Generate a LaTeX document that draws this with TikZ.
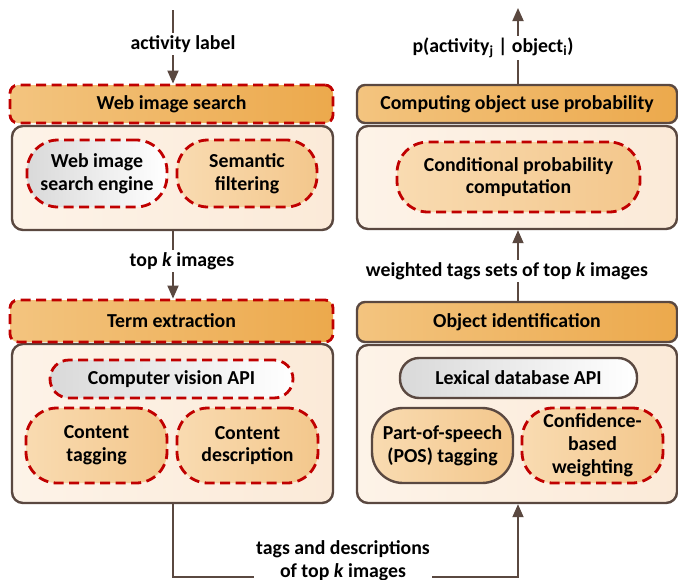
\documentclass[tikz,border=0pt]{standalone}
\usepackage{fontspec}
\setmainfont{Carlito}
\usetikzlibrary{arrows.meta}

\definecolor{edge}{HTML}{5A4840}
\definecolor{redash}{HTML}{C00000}
\definecolor{hdrL}{HTML}{F3C47F}
\definecolor{hdrR}{HTML}{ECA94C}
\definecolor{bodyL}{HTML}{FDF3E8}
\definecolor{bodyR}{HTML}{FBEAD8}
\definecolor{pillL}{HTML}{F9DBB1}
\definecolor{pillR}{HTML}{F3C78C}
\definecolor{greyL}{HTML}{D9D9D9}

\tikzset{
  hdr/.style={rectangle, rounded corners=8pt, inner sep=0pt,
    left color=hdrL, right color=hdrR, draw=edge, line width=2.4pt},
  reddash/.style={draw=redash, line width=2.8pt, dash pattern=on 10pt off 5.5pt},
  panel/.style={rectangle, rounded corners=11pt, inner sep=0pt,
    left color=bodyL, right color=bodyR, draw=edge, line width=2.4pt},
  pill/.style={rectangle, rounded corners=31pt, inner sep=0pt, align=center},
  flatpill/.style={rectangle, rounded corners=19pt, inner sep=0pt, align=center},
  warm/.style={left color=pillL, right color=pillR},
  cool/.style={left color=greyL, right color=white},
  solidedge/.style={draw=edge, line width=2.4pt},
  flow/.style={draw=edge, line width=1.8pt},
  flowtip/.style={flow, -{Triangle[width=11pt,length=13pt]}},
  lbl/.style={fill=white, inner sep=2pt, align=center}
}

\begin{document}
\begin{tikzpicture}[x=1pt, y=-1pt, font=\fontsize{19.8}{22.8}\selectfont\bfseries]
\useasboundingbox (0,0) rectangle (678,579);
\clip (0,0) rectangle (678,579);

% ---------- upper left: web image search ----------
\node[panel, minimum width=321pt, minimum height=104pt] (wisbody) at (172.5,178) {};
\node[hdr, reddash, minimum width=323pt, minimum height=38pt] (wis) at (171.5,104) {Web image search};
\node[pill, cool, reddash, minimum width=140pt, minimum height=67pt] (engine) at (97,173.5) {Web image\\search engine};
\node[pill, warm, reddash, minimum width=140pt, minimum height=67pt] (semf) at (247,173.5) {Semantic\\filtering};

% ---------- upper right: object use probability ----------
\node[panel, minimum width=320pt, minimum height=103pt] (coupbody) at (517,177.5) {};
\node[hdr, minimum width=320pt, minimum height=38pt] (coup) at (517,104) {Computing object use probability};
\node[pill, warm, reddash, minimum width=243pt, minimum height=70pt] (cond) at (518.5,177) {Conditional probability\\computation};

% ---------- lower left: term extraction ----------
\node[panel, minimum width=321pt, minimum height=159pt] (tebody) at (172.5,423.5) {};
\node[hdr, reddash, minimum width=323pt, minimum height=42pt] (te) at (171.5,321) {Term extraction};
\node[flatpill, cool, reddash, minimum width=243pt, minimum height=38pt] (cva) at (171.5,379) {Computer vision API};
\node[pill, warm, reddash, minimum width=141pt, minimum height=75pt] (ctag) at (96.5,445.5) {Content\\tagging};
\node[pill, warm, reddash, minimum width=141pt, minimum height=75pt] (cdesc) at (247.5,445.5) {Content\\description};

% ---------- lower right: object identification ----------
\node[panel, minimum width=320pt, minimum height=158pt] (oibody) at (517,424) {};
\node[hdr, minimum width=320pt, minimum height=40pt] (oi) at (517,322) {Object identification};
\node[flatpill, cool, solidedge, minimum width=237pt, minimum height=40pt] (lda) at (518.5,378) {Lexical database API};
\node[pill, warm, solidedge, minimum width=141pt, minimum height=75pt] (pos) at (442.5,445.5) {Part-of-speech\\(POS) tagging};
\node[pill, warm, reddash, minimum width=141pt, minimum height=75pt] (cbw) at (592.5,445.5) {Confidence-\\based\\weighting};

% ---------- connectors ----------
\coordinate (src) at (173,10);
\coordinate (sink) at (518,8);
\coordinate (dl) at (173,577);
\coordinate (dr) at (518,577);

\draw[flowtip] (src) -- (src |- wis.north);
\draw[flowtip] (wisbody.south -| src) -- (src |- te.north);
\draw[flowtip] (oi.north -| sink) -- (sink |- coupbody.south);
\draw[flowtip] (coup.north -| sink) -- (sink);
\draw[flowtip] (tebody.south -| dl) -- (dl) -- (dr) -- (dr |- oibody.south);

% ---------- connector labels ----------
\node[lbl] (l1) at (183,44) {activity label};
\node[lbl] (l2) at (182,261) {top \textit{k} images};
\node[lbl] (l3) at (507,271) {weighted tags sets of top \textit{k} images};
\node[lbl] (l4) at (493,48) {p(activity\textsubscript{j} | object\textsubscript{i})};
\node[lbl] (l5) at (343,561) {tags and descriptions\\of top \textit{k} images};
\end{tikzpicture}
\end{document}
